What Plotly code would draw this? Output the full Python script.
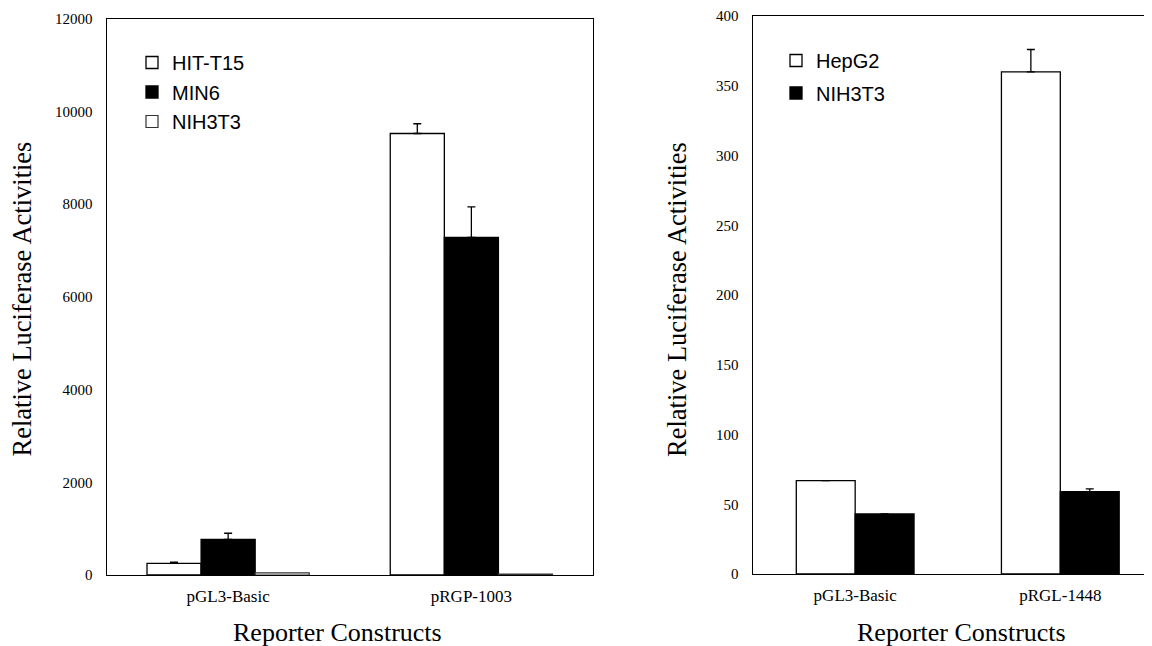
import plotly.graph_objects as go

# ---- data ----
left_categories = ["pGL3-Basic", "pRGP-1003"]
hit_t15 = [250, 9520]
hit_t15_err = [25, 210]
min6 = [770, 7280]
min6_err = [130, 660]
nih3t3_left = [45, 20]

right_categories = ["pGL3-Basic", "pRGL-1448"]
hepg2 = [67, 360]
hepg2_err = [None, 16]
nih3t3_right = [43, 59]
nih3t3_right_err = [None, 2]

left_yticks = [0, 2000, 4000, 6000, 8000, 10000, 12000]
right_yticks = [0, 50, 100, 150, 200, 250, 300, 350, 400]

y_title = "Relative Luciferase Activities"
x_title = "Reporter Constructs"

W, H = 1152, 646
OFF = 8  # page body offset
SERIF = "Liberation Serif"
SANS = "Liberation Sans"

def px_x(p):
    return (p - OFF) / W

def px_y(p):
    return 1 - (p - OFF) / H

def err(arr):
    return dict(type="data", array=arr, arrayminus=[0] * len(arr), symmetric=False,
                color="black", thickness=1.3, width=4, visible=True)

fig = go.Figure()

white = dict(color="white", line=dict(color="black", width=1.3))
black = dict(color="black", line=dict(color="black", width=1.3))

fig.add_trace(go.Bar(x=left_categories, y=hit_t15, name="HIT-T15", marker=white,
                     error_y=err(hit_t15_err), xaxis="x", yaxis="y",
                     legend="legend", legendgroup="a"))
fig.add_trace(go.Bar(x=left_categories, y=min6, name="MIN6", marker=black,
                     error_y=err(min6_err), xaxis="x", yaxis="y",
                     legend="legend", legendgroup="b"))
fig.add_trace(go.Bar(x=left_categories, y=nih3t3_left, name="NIH3T3",
                     marker=dict(color="white", line=dict(color="#333333", width=1.2)),
                     xaxis="x", yaxis="y", legend="legend", legendgroup="c"))

fig.add_trace(go.Bar(x=right_categories, y=hepg2, name="HepG2", marker=white,
                     error_y=err(hepg2_err), xaxis="x2", yaxis="y2",
                     legend="legend2", legendgroup="d", width=0.287, offset=-0.287))
fig.add_trace(go.Bar(x=right_categories, y=nih3t3_right, name="NIH3T3", marker=black,
                     error_y=err(nih3t3_right_err), xaxis="x2", yaxis="y2",
                     legend="legend2", legendgroup="e", width=0.287, offset=0.0))

axis_common = dict(showgrid=False, zeroline=False, showline=True, linecolor="black",
                   linewidth=1, ticks="", automargin=False)

fig.update_layout(
    width=W, height=H,
    margin=dict(l=0, r=0, t=0, b=0, pad=0, autoexpand=False),
    paper_bgcolor="white", plot_bgcolor="white",
    barmode="group",
    bargap=0.333,
    showlegend=True,
    xaxis=dict(**axis_common, domain=[px_x(106.5), px_x(593)], range=[-0.5, 1.5],
               mirror=True, anchor="y", type="category",
               tickfont=dict(family=SERIF, size=17, color="black"), ticklabelstandoff=6),
    yaxis=dict(**axis_common, domain=[px_y(575), px_y(18.5)], range=[0, 12000],
               mirror=True, anchor="x", tickvals=left_yticks,
               ticktext=[str(v) for v in left_yticks],
               tickfont=dict(family=SERIF, size=15, color="black"), ticklabelstandoff=10),
    xaxis2=dict(**axis_common, domain=[px_x(752.6), px_x(1152)], range=[-0.5, 1.447],
                mirror=True, anchor="y2", type="category",
                tickfont=dict(family=SERIF, size=17, color="black"), ticklabelstandoff=6),
    yaxis2=dict(**axis_common, domain=[px_y(574), px_y(16)], range=[0, 400],
                mirror=False, anchor="x2", tickvals=right_yticks,
                ticktext=[str(v) for v in right_yticks],
                tickfont=dict(family=SERIF, size=15, color="black"), ticklabelstandoff=10),
    legend=dict(x=px_x(132), y=px_y(43), xanchor="left", yanchor="top",
                font=dict(family=SANS, size=20, color="black"),
                bgcolor="rgba(0,0,0,0)", traceorder="grouped", tracegroupgap=0.5,
                itemwidth=30),
    legend2=dict(x=px_x(776), y=px_y(41), xanchor="left", yanchor="top",
                 font=dict(family=SANS, size=20, color="black"),
                 bgcolor="rgba(0,0,0,0)", traceorder="grouped", tracegroupgap=3.5,
                 itemwidth=30),
)

ytitle_font = dict(family=SERIF, size=26.5, color="black")
xtitle_font = dict(family=SERIF, size=26, color="black")
annotations = [
    dict(text=y_title, x=px_x(21), y=px_y(299.5), xref="paper", yref="paper",
         xanchor="center", yanchor="middle", textangle=-90, showarrow=False, font=ytitle_font),
    dict(text=y_title, x=px_x(676.5), y=px_y(299.5), xref="paper", yref="paper",
         xanchor="center", yanchor="middle", textangle=-90, showarrow=False, font=ytitle_font),
    dict(text=x_title, x=px_x(337), y=px_y(632.5), xref="paper", yref="paper",
         xanchor="center", yanchor="middle", showarrow=False, font=xtitle_font),
    dict(text=x_title, x=px_x(961), y=px_y(632.5), xref="paper", yref="paper",
         xanchor="center", yanchor="middle", showarrow=False, font=xtitle_font),
]
fig.update_layout(annotations=annotations)

fig.write_html("out.html")
